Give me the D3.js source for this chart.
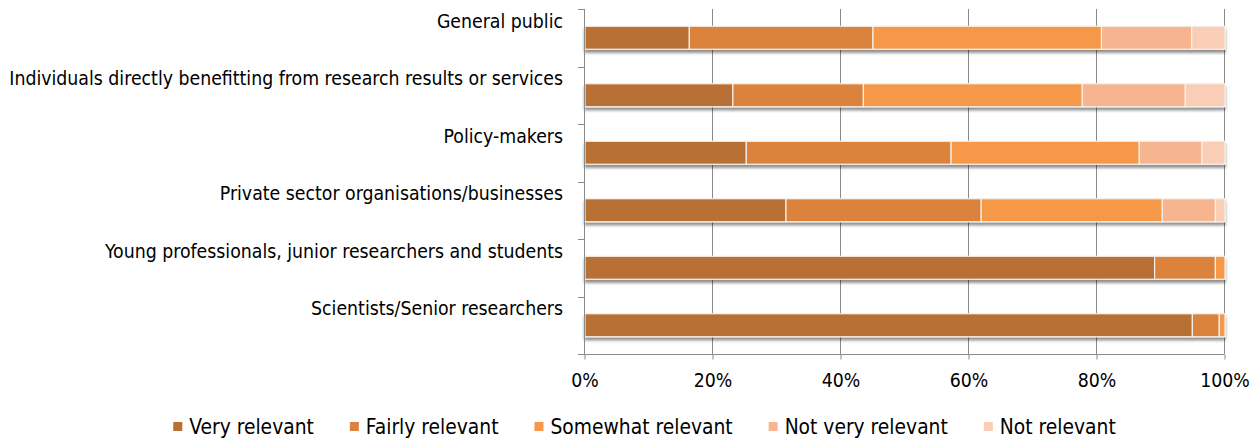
<!DOCTYPE html>
<html>
<head>
<meta charset="utf-8">
<script src="https://cdn.jsdelivr.net/npm/d3@7"></script>
<style>
  html, body { margin: 0; padding: 0; background: #fff; }
  svg { display: block; }
  text { font-family: "DejaVu Sans Condensed", "DejaVu Sans", sans-serif; fill: #000; }
</style>
</head>
<body>
<svg id="chart" width="1254" height="439"></svg>
<script>
// Audience groups, top to bottom
const categories = [
  "General public",
  "Individuals directly benefitting from research results or services",
  "Policy-makers",
  "Private sector organisations/businesses",
  "Young professionals, junior researchers and students",
  "Scientists/Senior researchers"
];

// Share of respondents per rating (%)
const veryRelevant     = [16.3, 23.1, 25.2, 31.4, 89.0, 94.9];
const fairlyRelevant   = [28.7, 20.4, 32.0, 30.5,  9.5,  4.2];
const somewhatRelevant = [35.7, 34.2, 29.4, 28.3,  1.5,  0.9];
const notVeryRelevant  = [14.1, 16.1,  9.8,  8.3,  0.0,  0.0];
const notRelevant      = [ 5.2,  6.2,  3.6,  1.5,  0.0,  0.0];

const seriesNames  = ["Very relevant", "Fairly relevant", "Somewhat relevant", "Not very relevant", "Not relevant"];
const seriesColors = ["#B97034", "#DB833E", "#F59847", "#F7B58F", "#FACDB6"];
const tickValues   = [0, 20, 40, 60, 80, 100];

const FONT_SIZE = 19.3;
const LEGEND_FONT_SIZE = 20.8;

const rows = categories.map((c, i) => ({
  category: c,
  "Very relevant": veryRelevant[i],
  "Fairly relevant": fairlyRelevant[i],
  "Somewhat relevant": somewhatRelevant[i],
  "Not very relevant": notVeryRelevant[i],
  "Not relevant": notRelevant[i]
}));

const svg = d3.select("#chart");
const plot = { left: 584, right: 1224, top: 9, bottom: 354 };

const x = d3.scaleLinear().domain([0, 100]).range([plot.left, plot.right]);
const y = d3.scaleBand().domain(categories).range([plot.top, plot.bottom])
  .paddingInner(0.6).paddingOuter(0.3);
const color = d3.scaleOrdinal().domain(seriesNames).range(seriesColors);

// Soft shadow under the bars
const defs = svg.append("defs");
const f = defs.append("filter").attr("id", "shadow")
  .attr("x", "-5%").attr("y", "-30%").attr("width", "110%").attr("height", "180%");
f.append("feGaussianBlur").attr("in", "SourceAlpha").attr("stdDeviation", 1.6).attr("result", "b");
f.append("feOffset").attr("in", "b").attr("dx", 0).attr("dy", 2.5).attr("result", "o");
f.append("feComponentTransfer").attr("in", "o").attr("result", "s")
  .append("feFuncA").attr("type", "linear").attr("slope", 0.45);
const m = f.append("feMerge");
m.append("feMergeNode").attr("in", "s");
m.append("feMergeNode").attr("in", "SourceGraphic");

// Vertical gridlines
svg.append("g").selectAll("line").data(tickValues.slice(1)).join("line")
  .attr("x1", d => x(d) + 0.5).attr("x2", d => x(d) + 0.5)
  .attr("y1", plot.top).attr("y2", plot.bottom)
  .attr("stroke", "#8a8a8a").attr("stroke-width", 1);

// Stacked bars
const stack = d3.stack().keys(seriesNames);
const layers = stack(rows);
svg.append("g").attr("filter", "url(#shadow)")
  .selectAll("g").data(layers).join("g")
  .attr("fill", d => color(d.key))
  .selectAll("rect").data(d => d.filter(s => s[1] - s[0] > 0)).join("rect")
  .attr("x", d => x(d[0]) + 1)
  .attr("y", d => y(d.data.category))
  .attr("width", d => Math.max(0, x(d[1]) - x(d[0])))
  .attr("height", y.bandwidth())
  .attr("stroke", "#f6f1ec").attr("stroke-width", 1.2);

// X axis
const xAxis = d3.axisBottom(x).tickValues(tickValues).tickFormat(d => d + "%").tickSize(5).tickPadding(14);
const gx = svg.append("g").attr("transform", `translate(0.5,${plot.bottom + 0.5})`).call(xAxis);
gx.select(".domain").attr("stroke", "#8a8a8a").attr("d", `M${plot.left - 6},0H${plot.right}`);
gx.selectAll(".tick line").attr("stroke", "#8a8a8a");
gx.selectAll(".tick text").attr("font-size", FONT_SIZE)
  .style("font-family", '"DejaVu Sans Condensed", sans-serif');

// Y axis line and category boundary ticks
const gy = svg.append("g");
gy.append("line").attr("x1", plot.left + 0.5).attr("x2", plot.left + 0.5)
  .attr("y1", plot.top).attr("y2", plot.bottom).attr("stroke", "#8a8a8a");
const bounds = d3.range(categories.length + 1).map(i => plot.top + i * y.step());
gy.selectAll("line.t").data(bounds).join("line").attr("class", "t")
  .attr("x1", plot.left - 6).attr("x2", plot.left)
  .attr("y1", d => Math.round(d) + 0.5).attr("y2", d => Math.round(d) + 0.5)
  .attr("stroke", "#8a8a8a");

// Category labels
svg.append("g").selectAll("text").data(categories).join("text")
  .attr("x", 563)
  .attr("y", d => y(d) + y.bandwidth() / 2 - 10)
  .attr("text-anchor", "end")
  .attr("font-size", FONT_SIZE)
  .text(d => d);

// Legend
const legend = svg.append("g");
const items = legend.selectAll("g").data(seriesNames).join("g");
items.append("rect").attr("width", 9).attr("height", 9).attr("y", 422)
  .attr("fill", d => color(d));
items.append("text").attr("x", 16).attr("y", 434).attr("font-size", LEGEND_FONT_SIZE).text(d => d);
const widths = [];
items.each(function () {
  const w = d3.select(this).select("text").node().getComputedTextLength();
  widths.push(16 + w);
});
const total = d3.sum(widths) + 36 * (widths.length - 1);
let cx = 644.5 - total / 2;
items.attr("transform", (d, i) => {
  const t = `translate(${cx},0)`;
  cx += widths[i] + 36;
  return t;
});
</script>
</body>
</html>
